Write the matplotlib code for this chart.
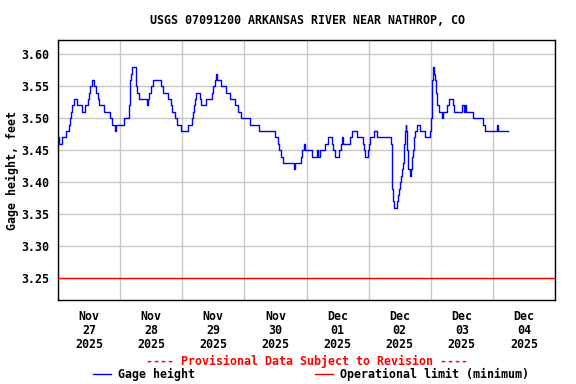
import matplotlib
matplotlib.use("Agg")
import matplotlib.pyplot as plt
import matplotlib.dates as mdates
from matplotlib.lines import Line2D
import numpy as np
import pandas as pd

# ---- data ----
title = "USGS 07091200 ARKANSAS RIVER NEAR NATHROP, CO"
start_time = "2025-11-27 00:00"
# hours since Nov 27 00:00 at which the gage height changes, and the value from then on
hours = [0.0, 0.3, 1.7, 3.1, 4.3, 4.8, 5.0, 5.4, 6.2, 7.2, 9.3, 10.3, 11.4, 11.9, 12.3, 13.0,
         14.1, 14.8, 15.6, 16.0, 17.7, 20.0, 20.8, 22.1, 22.3, 25.4, 27.3, 27.7, 28.0, 28.3,
         28.6, 30.1, 30.3, 30.7, 31.3, 34.3, 34.7, 35.2, 36.0, 36.8, 39.7, 40.6, 42.6, 43.5,
         44.2, 45.2, 45.8, 47.7, 50.1, 51.7, 52.0, 52.5, 53.0, 53.5, 54.8, 55.3, 57.1, 59.6,
         60.0, 60.5, 61.0, 61.3, 63.0, 64.9, 66.3, 68.4, 69.5, 70.6, 74.0, 77.8, 83.9, 84.9,
         85.4, 86.2, 87.1, 91.0, 91.6, 93.9, 94.2, 95.1, 95.5, 98.1, 100.0, 100.3, 101.3,
         103.3, 104.3, 105.7, 106.1, 107.0, 108.4, 109.3, 109.7, 110.1, 112.9, 113.5, 115.5,
         117.7, 118.3, 118.7, 119.9, 120.3, 120.6, 121.9, 123.2, 128.8, 129.0, 129.4, 129.7,
         131.1, 131.5, 131.9, 132.2, 132.6, 132.9, 133.2, 133.5, 133.9, 134.3, 134.6, 134.8,
         135.1, 135.9, 136.2, 136.6, 137.0, 137.4, 137.8, 138.6, 139.7, 141.7, 143.7, 144.1,
         144.3, 144.5, 144.8, 145.4, 145.8, 145.9, 146.2, 146.6, 147.1, 148.5, 148.8, 150.1,
         151.1, 152.6, 153.1, 156.0, 156.9, 157.1, 157.7, 160.5, 164.1, 165.0, 169.7, 170.0,
         173.8]
gage = [3.47, 3.46, 3.47, 3.48, 3.49, 3.50, 3.51, 3.52, 3.53, 3.52, 3.51, 3.52, 3.53, 3.54, 3.55, 3.56,
        3.55, 3.54, 3.53, 3.52, 3.51, 3.50, 3.49, 3.48, 3.49, 3.50, 3.52, 3.54, 3.56, 3.57,
        3.58, 3.57, 3.55, 3.54, 3.53, 3.52, 3.53, 3.54, 3.55, 3.56, 3.55, 3.54, 3.53, 3.52,
        3.51, 3.50, 3.49, 3.48, 3.49, 3.50, 3.51, 3.52, 3.53, 3.54, 3.53, 3.52, 3.53, 3.54,
        3.55, 3.56, 3.57, 3.56, 3.55, 3.54, 3.53, 3.52, 3.51, 3.50, 3.49, 3.48, 3.47, 3.46,
        3.45, 3.44, 3.43, 3.42, 3.43, 3.44, 3.45, 3.46, 3.45, 3.44, 3.45, 3.44, 3.45,
        3.46, 3.47, 3.46, 3.45, 3.44, 3.45, 3.46, 3.47, 3.46, 3.47, 3.48, 3.47,
        3.46, 3.45, 3.44, 3.45, 3.46, 3.47, 3.48, 3.47, 3.46, 3.39, 3.37, 3.36,
        3.37, 3.38, 3.39, 3.40, 3.41, 3.42, 3.43, 3.46, 3.48, 3.49, 3.48, 3.45,
        3.42, 3.41, 3.42, 3.44, 3.45, 3.47, 3.48, 3.49, 3.48, 3.47, 3.48, 3.50,
        3.53, 3.56, 3.58, 3.57, 3.56, 3.55, 3.54, 3.52, 3.51, 3.50, 3.51, 3.52,
        3.53, 3.52, 3.51, 3.52, 3.51, 3.52, 3.51, 3.50, 3.49, 3.48, 3.49, 3.48,
        3.48]
operational_limit = 3.25
y_ticks = [3.25, 3.30, 3.35, 3.40, 3.45, 3.50, 3.55, 3.60]
x_start = "2025-11-27"
x_end = "2025-12-05"
legend_labels = ["Gage height", "Operational limit (minimum)"]
provisional = "---- Provisional Data Subject to Revision ----"

# ---- drawing ----
FONT = "DejaVu Sans Mono"
FS = 8.4
plt.rcParams["font.family"] = FONT
plt.rcParams["font.weight"] = "bold"

fig = plt.figure(figsize=(5.76, 3.84), dpi=100)
ax = fig.add_axes([58 / 576, 1 - 300 / 384, 497 / 576, 260 / 384])

times = pd.Timestamp(start_time) + pd.to_timedelta(hours, unit="h")
ax.plot(times, gage, color="#0000ff", lw=1.0, drawstyle="steps-post", zorder=3)
ax.axhline(operational_limit, color="#ff0000", lw=1.0, zorder=3)

ax.set_xlim(pd.Timestamp(x_start), pd.Timestamp(x_end))
ax.set_ylim(3.2155, 3.6225)
ax.set_yticks(y_ticks)
ax.set_yticklabels([f"{v:.2f}" for v in y_ticks])

ax.xaxis.set_major_locator(mdates.DayLocator())
ax.xaxis.set_major_formatter(plt.NullFormatter())
ax.xaxis.set_minor_locator(mdates.HourLocator(byhour=[12]))
ax.xaxis.set_minor_formatter(mdates.DateFormatter("%b\n%d\n%Y"))

ax.grid(True, which="major", color="#c8c8c8", lw=1.0, zorder=1)
ax.tick_params(axis="both", which="both", length=0, labelsize=FS)
ax.tick_params(axis="x", which="minor", pad=7.5)
ax.tick_params(axis="y", pad=6)
for lab in ax.xaxis.get_minorticklabels():
    lab.set_linespacing(1.1)
    lab.set_fontweight("bold")
for lab in ax.get_yticklabels():
    lab.set_fontweight("bold")

for sp in ax.spines.values():
    sp.set_color("black")
    sp.set_linewidth(1.0)

ax.set_ylabel("Gage height, feet", fontsize=FS, fontweight="bold")
ax.yaxis.set_label_coords(-39 / 497, 0.5)

fig.text(307 / 576, 1 - 20 / 384, title, ha="center", va="center",
         fontsize=FS, fontweight="bold")
fig.text(307 / 576, 1 - 361 / 384, provisional, ha="center", va="center",
         fontsize=FS, fontweight="bold", color="#ff0000")

handles = [Line2D([], [], color="#0000ff", lw=1.0),
           Line2D([], [], color="#ff0000", lw=1.0)]
fig.legend(handles, legend_labels, loc="center left",
           bbox_to_anchor=(93 / 576, 1 - 374.5 / 384), ncol=2, frameon=False,
           fontsize=FS, handlelength=1.55, handletextpad=0.6, columnspacing=10.3,
           borderpad=0, borderaxespad=0, prop={"family": FONT, "weight": "bold", "size": FS})

fig.savefig("out.png", dpi=100, facecolor="white")
